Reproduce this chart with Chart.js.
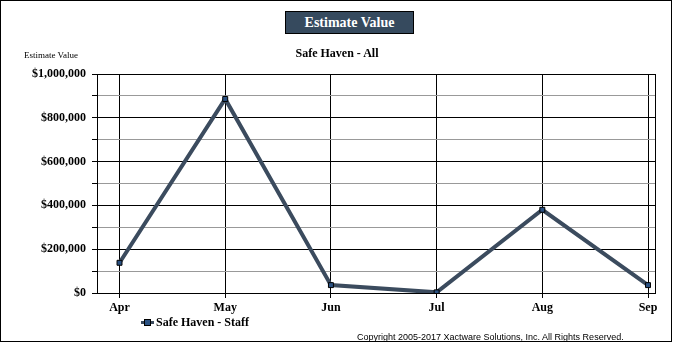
<!DOCTYPE html>
<html>
<head>
<meta charset="utf-8">
<script src="https://cdn.jsdelivr.net/npm/chart.js@4"></script>
<style>
  html, body { margin: 0; padding: 0; background: #fff; }
  #wrap { position: relative; width: 674px; height: 350px; }
  #frame { position: absolute; left: 0; top: 0; width: 670px; height: 340px; border: 1px solid #000; }
  #chart { position: absolute; left: 0; top: 0; }
  .txt { position: absolute; font-family: "Liberation Serif", "Times New Roman", serif; font-weight: bold; color: #000; white-space: nowrap; }
  #titleBox { left: 285px; top: 11px; width: 127px; height: 21px; background: #364a5e; border: 1px solid #000; color: #fff; font-size: 14px; line-height: 21px; text-align: center; }
  #subtitle { left: 0; width: 674px; top: 46px; font-size: 12px; text-align: center; }
  #yTitle { left: 24px; top: 50px; font-size: 9px; font-weight: normal; }
  #legend { left: 141px; top: 315px; font-size: 12px; }
  #legend .mk { display: inline-block; position: relative; width: 13px; height: 10px; vertical-align: -1px; margin-right: 2px; }
  #legend .ln { position: absolute; left: 0; top: 4px; width: 13px; height: 3px; background: #3b4b5e; }
  #legend .sq { position: absolute; left: 3px; top: 2px; width: 5px; height: 5px; background: #2a5182; border: 1px solid #000; }
  #copy { left: 357px; top: 332px; font-family: "Liberation Sans", Arial, sans-serif; font-weight: normal; font-size: 9px; }
</style>
</head>
<body>
<div id="wrap">
  <canvas id="chart" width="674" height="350"></canvas>
  <div id="frame"></div>
  <div class="txt" id="titleBox">Estimate Value</div>
  <div class="txt" id="subtitle">Safe Haven - All</div>
  <div class="txt" id="yTitle">Estimate Value</div>
  <div class="txt" id="legend"><span class="mk"><span class="ln"></span><span class="sq"></span></span>Safe Haven - Staff</div>
  <div class="txt" id="copy">Copyright 2005-2017 Xactware Solutions, Inc. All Rights Reserved.</div>
</div>
<script>
var months = ['Apr', 'May', 'Jun', 'Jul', 'Aug', 'Sep'];
var staffValues = [138000, 886000, 36000, 3000, 380000, 36000];
var yTicks = [0, 200000, 400000, 600000, 800000, 1000000];

var serif = '"Liberation Serif", "Times New Roman", serif';

// full black box round the plot area
var plotBorder = {
  id: 'plotBorder',
  afterDraw: function(chart) {
    var a = chart.chartArea, ctx = chart.ctx;
    ctx.save();
    ctx.strokeStyle = '#000';
    ctx.lineWidth = 1;
    ctx.strokeRect(Math.round(a.left) + 0.5, Math.round(a.top) + 0.5, Math.round(a.right - a.left), Math.round(a.bottom - a.top));
    ctx.restore();
  }
};

new Chart(document.getElementById('chart').getContext('2d'), {
  type: 'line',
  data: {
    datasets: [{
      label: 'Safe Haven - Staff',
      data: staffValues.map(function(v, i) { return { x: i, y: v }; }),
      borderColor: '#3b4b5e',
      borderWidth: 4,
      tension: 0,
      pointStyle: 'rect',
      pointRadius: 3.5,
      pointBackgroundColor: '#2a5182',
      pointBorderColor: '#000',
      pointBorderWidth: 1
    }]
  },
  options: {
    responsive: false,
    animation: false,
    layout: { padding: { top: 74, right: 19, left: 0, bottom: 0 } },
    plugins: { legend: { display: false }, tooltip: { enabled: false } },
    scales: {
      x: {
        type: 'linear',
        min: -0.213,
        max: 5.066,
        afterBuildTicks: function(s) { s.ticks = months.map(function(m, i) { return { value: i }; }); },
        afterFit: function(s) { s.height = 57; },
        grid: { color: '#000', tickColor: '#000', tickLength: 5, lineWidth: 1 },
        border: { display: false },
        ticks: {
          padding: 3,
          color: '#000',
          font: { family: serif, size: 12, weight: 'bold' },
          callback: function(v) { return months[v]; }
        }
      },
      y: {
        min: 0,
        max: 1000000,
        afterFit: function(s) { s.width = 97; },
        grid: {
          color: function(c) { return c.tick && c.tick.value % 200000 === 0 ? '#000' : '#999'; },
          tickColor: '#000',
          tickLength: 5,
          lineWidth: 1
        },
        border: { display: false },
        ticks: {
          stepSize: 100000,
          padding: 6,
          color: '#000',
          font: { family: serif, size: 12, weight: 'bold' },
          callback: function(v) {
            if (yTicks.indexOf(v) < 0) return '';
            return '$' + v.toLocaleString('en-US');
          }
        }
      }
    }
  },
  plugins: [plotBorder]
});
</script>
</body>
</html>
